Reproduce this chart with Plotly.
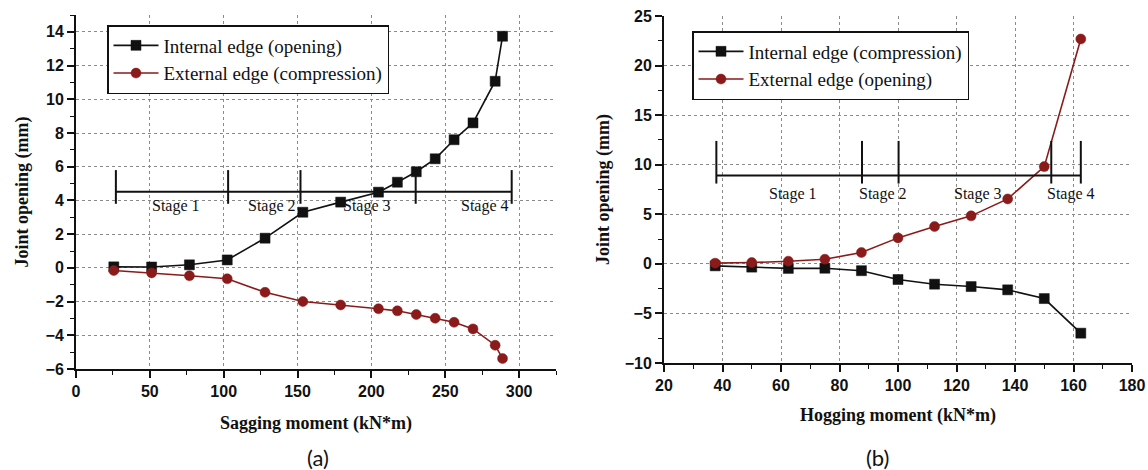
import plotly.graph_objects as go

# ---------------- data (a) sagging ----------------
a_moment = [25.6, 51.2, 76.8, 102.4, 128.0, 153.6, 179.2, 204.8, 217.6, 230.4, 243.2, 256.0, 268.8, 283.8, 288.8]
a_internal = [0.06, 0.05, 0.18, 0.47, 1.76, 3.30, 3.90, 4.49, 5.08, 5.70, 6.47, 7.60, 8.60, 11.07, 13.74]
a_external = [-0.16, -0.30, -0.47, -0.65, -1.45, -2.00, -2.20, -2.43, -2.55, -2.77, -2.99, -3.23, -3.62, -4.59, -5.38]
a_names = ["Internal edge (opening)", "External edge (compression)"]

a_stage_bounds = [27, 103, 152, 230, 295]
a_stage_line_y = 4.52
a_stage_bar_y = [3.8, 5.8]
a_stage_labels = ["Stage 1", "Stage 2", "Stage 3", "Stage 4"]
a_stage_label_x = [68, 133, 197, 277]
a_stage_label_y = 3.66

# ---------------- data (b) hogging ----------------
b_moment = [37.5, 50, 62.5, 75, 87.5, 100, 112.5, 125, 137.5, 150, 162.5]
b_internal = [-0.20, -0.33, -0.46, -0.44, -0.69, -1.58, -2.05, -2.29, -2.62, -3.50, -6.99]
b_external = [0.07, 0.13, 0.27, 0.47, 1.14, 2.62, 3.76, 4.84, 6.55, 9.81, 22.68]
b_names = ["Internal edge (compression)", "External edge (opening)"]

b_stage_bounds = [37.9, 87.7, 100.2, 152.4, 162.5]
b_stage_line_y = 8.9
b_stage_bar_y = [8.1, 12.4]
b_stage_labels = ["Stage 1", "Stage 2", "Stage 3", "Stage 4"]
b_stage_label_x = [64, 95, 127.5, 159]
b_stage_label_y = 7.0

panel_labels = ["(a)", "(b)"]
x_titles = ["Sagging moment (kN*m)", "Hogging moment (kN*m)"]
y_title = "Joint opening (mm)"

BLACK = "#111111"
RED = "#8B1A1A"
SERIF = "Liberation Serif"
SANS = "Liberation Sans"

# the plot div is pinned to the window corner and fills the whole 1148x470 window
W, H = 1148, 470

def fx(px):
    return px / W

def fy(py):
    return 1 - py / H

fig = go.Figure()

def add_series(x, y, name, color, symbol, xa, ya, legend):
    fig.add_trace(go.Scatter(
        x=x, y=y, name=name, mode="lines+markers",
        line=dict(color=color, width=1.6),
        marker=dict(symbol=symbol, size=10, color=color, line=dict(color=color, width=0.5)),
        xaxis=xa, yaxis=ya, legend=legend))

add_series(a_moment, a_internal, a_names[0], BLACK, "square", "x", "y", "legend")
add_series(a_moment, a_external, a_names[1], RED, "circle", "x", "y", "legend")
add_series(b_moment, b_internal, b_names[0], BLACK, "square", "x2", "y2", "legend2")
add_series(b_moment, b_external, b_names[1], RED, "circle", "x2", "y2", "legend2")

def add_stages(bounds, line_y, bar_y, labels, lx, ly, xref, yref):
    fig.add_shape(type="line", x0=bounds[0], x1=bounds[-1], y0=line_y, y1=line_y,
                  xref=xref, yref=yref, line=dict(color=BLACK, width=2))
    for b in bounds:
        fig.add_shape(type="line", x0=b, x1=b, y0=bar_y[0], y1=bar_y[1],
                      xref=xref, yref=yref, line=dict(color=BLACK, width=2))
    for t, x in zip(labels, lx):
        fig.add_annotation(x=x, y=ly, xref=xref, yref=yref, text=t, showarrow=False,
                           font=dict(family=SERIF, size=16, color=BLACK))

add_stages(a_stage_bounds, a_stage_line_y, a_stage_bar_y, a_stage_labels,
           a_stage_label_x, a_stage_label_y, "x", "y")
add_stages(b_stage_bounds, b_stage_line_y, b_stage_bar_y, b_stage_labels,
           b_stage_label_x, b_stage_label_y, "x2", "y2")

tickfont = dict(family=SANS, size=16, color=BLACK, weight="bold")
titlefont = dict(family=SERIF, size=18, color=BLACK, weight="bold")

def main_axis(domain, rng, dtick, minor, anchor, title, standoff):
    return dict(domain=domain, range=rng, dtick=dtick, tick0=rng[0], anchor=anchor,
                ticks="outside", ticklen=7, tickwidth=1.5, tickcolor=BLACK,
                showline=True, linewidth=2, linecolor=BLACK, mirror=False,
                showgrid=True, gridcolor="#8a8a8a", griddash="dot", gridwidth=1,
                zeroline=False, tickfont=tickfont, ticklabeloverflow="allow",
                automargin=False,
                minor=dict(ticks="outside", ticklen=4, tickwidth=1.2, tickcolor=BLACK,
                           dtick=minor, showgrid=False),
                title=dict(text=title, font=titlefont, standoff=standoff))

def mirror_axis(rng, dtick, minor, overlaying, anchor, side):
    return dict(range=rng, dtick=dtick, tick0=rng[0], overlaying=overlaying, anchor=anchor,
                side=side, ticks="inside", ticklen=7, tickwidth=1.5, tickcolor=BLACK,
                showticklabels=False, showgrid=False, zeroline=False,
                showline=True, linewidth=2, linecolor=BLACK,
                minor=dict(ticks="inside", ticklen=4, tickwidth=1.2, tickcolor=BLACK,
                           dtick=minor, showgrid=False))

xa_dom = [fx(76), fx(556)]
ya_dom = [fy(369), fy(15)]
xb_dom = [fx(664), fx(1132)]
yb_dom = [fy(363), fy(16)]

legend_style = dict(xanchor="left", yanchor="top", bgcolor="white", bordercolor=BLACK,
                    borderwidth=1.5, font=dict(family=SERIF, size=19, color=BLACK),
                    tracegroupgap=0, itemwidth=45)

fig.update_layout(
    margin=dict(l=0, r=0, t=0, b=0, autoexpand=False),
    paper_bgcolor="white", plot_bgcolor="white",
    xaxis=main_axis(xa_dom, [0, 325], 50, 25, "y", x_titles[0], 17),
    yaxis=main_axis(ya_dom, [-6, 15], 2, 1, "x", y_title, 12),
    xaxis2=main_axis(xb_dom, [20, 180], 20, 10, "y2", x_titles[1], 15),
    yaxis2=main_axis(yb_dom, [-10, 25], 5, 2.5, "x2", y_title, 10),
    xaxis3=mirror_axis([0, 325], 50, 25, "x", "y", "top"),
    yaxis3=mirror_axis([-6, 15], 2, 1, "y", "x", "right"),
    xaxis4=mirror_axis([20, 180], 20, 10, "x2", "y2", "top"),
    yaxis4=mirror_axis([-10, 25], 5, 2.5, "y2", "x2", "right"),
    legend=dict(x=fx(107), y=fy(25), **legend_style),
    legend2=dict(x=fx(692), y=fy(31), **legend_style),
    showlegend=True,
)

fig.add_annotation(x=fx(318), y=fy(457), xref="paper", yref="paper", text=panel_labels[0],
                   xanchor="center", yanchor="middle",
                   showarrow=False, font=dict(family="Lato", size=22, color=BLACK))
fig.add_annotation(x=fx(877), y=fy(457), xref="paper", yref="paper", text=panel_labels[1],
                   xanchor="center", yanchor="middle",
                   showarrow=False, font=dict(family="Lato", size=22, color=BLACK))

fig.write_html("out.html", config={"displayModeBar": False},
               default_width="1148px",
               default_height="470px; position:absolute; left:0; top:0")
